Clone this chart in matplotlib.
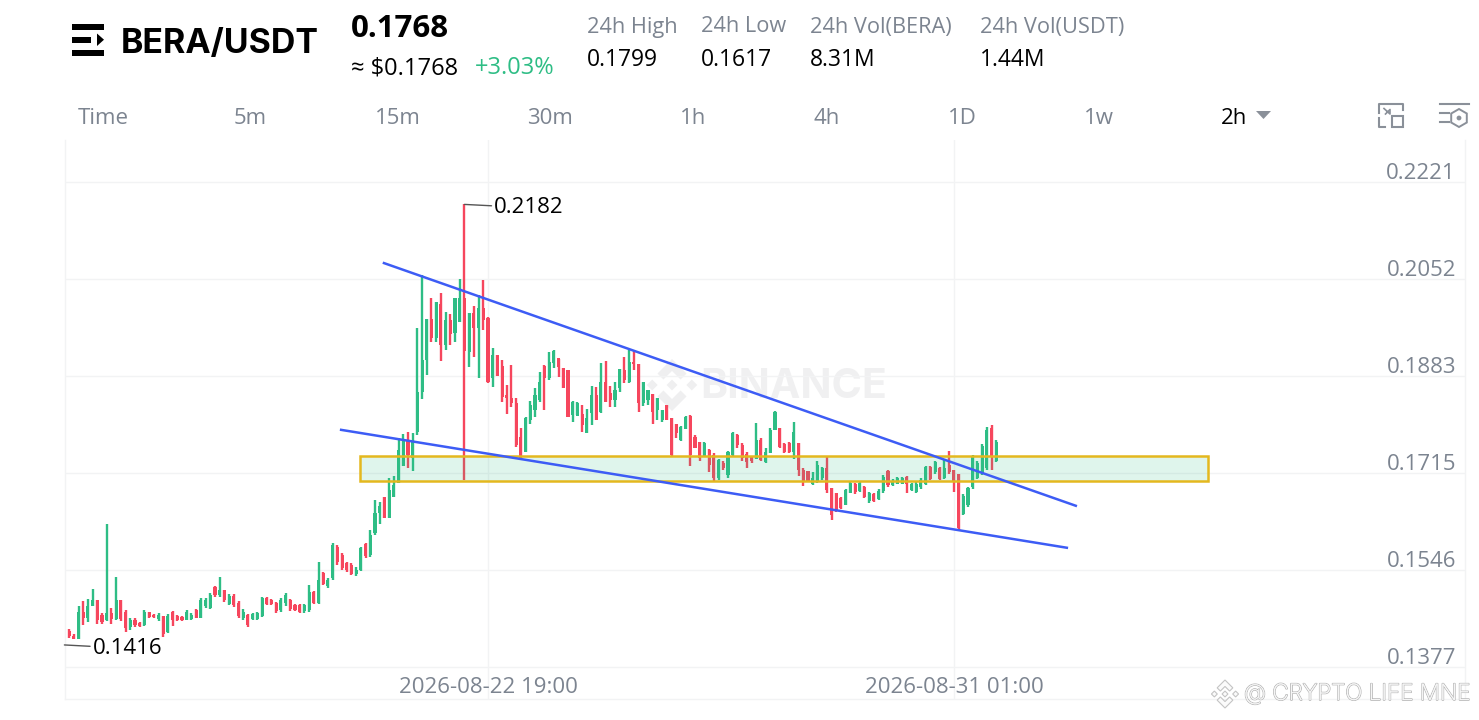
#!/usr/bin/env python
# coding: utf-8

"""BERA/USDT 2h candlestick chart, exchange app screenshot style."""

import matplotlib

matplotlib.use("Agg")
import matplotlib.patches as mpatches
import matplotlib.patheffects as path_effects
import matplotlib.pyplot as plt
import numpy as np

plt.rcParams["font.family"] = ["Open Sans", "DejaVu Sans"]

GREEN = "#2EBD85"
RED = "#F6465D"
BLUE = "#3D5CF5"
YELLOW = "#E4B81E"
GRAY = "#7C8490"
GRID = "#F2F3F4"
BOLD_FONT = ["Inter", "DejaVu Sans"]

# prices in 1/10000 USDT, one value per 2h candle
opens = [
    1423, 1440, 1431, 1427, 1473, 1463, 1484, 1494, 1468, 1459, 1471, 1461, 1494, 1473, 1447, 1459, 1454, 1451, 1473, 1468,
    1461, 1466, 1438, 1473, 1466, 1465, 1459, 1461, 1477, 1463, 1484, 1480, 1517, 1503, 1511, 1487, 1501, 1489, 1463, 1468,
    1461, 1461, 1466, 1498, 1494, 1489, 1477, 1489, 1494, 1485, 1485, 1475, 1477, 1508, 1489, 1541, 1518, 1532, 1586, 1572,
    1558, 1555, 1539, 1546, 1592, 1572, 1611, 1645, 1673, 1637, 1673, 1698, 1727, 1772, 1741, 1786, 1856, 1911, 1983, 1950,
    2009, 1938, 1981, 1958, 1978, 2019, 1925, 1993, 1967, 2002, 1984, 1880, 1920, 1901, 1851, 1845, 1837, 1778, 1751, 1807,
    1824, 1842, 1901, 1880, 1906, 1915, 1898, 1894, 1816, 1814, 1818, 1785, 1819, 1851, 1821, 1873, 1854, 1842, 1863, 1894,
    1873, 1908, 1905, 1837, 1842, 1852, 1824, 1807, 1833, 1811, 1800, 1772, 1791, 1814, 1778, 1769, 1744, 1755, 1746, 1706,
    1732, 1711, 1746, 1781, 1764, 1748, 1743, 1739, 1772, 1734, 1750, 1790, 1793, 1765, 1767, 1751, 1767, 1720, 1718, 1696,
    1699, 1706, 1724, 1689, 1680, 1671, 1659, 1680, 1696, 1684, 1691, 1666, 1678, 1670, 1684, 1718, 1694, 1696, 1696, 1708,
    1685, 1682, 1691, 1696, 1725, 1717, 1724, 1706, 1729, 1720, 1713, 1644, 1659, 1691, 1706, 1715, 1724, 1793, 1736,
]
highs = [
    1437, 1444, 1435, 1483, 1492, 1496, 1514, 1495, 1471, 1626, 1480, 1534, 1495, 1477, 1462, 1462, 1456, 1477, 1474, 1470,
    1471, 1467, 1470, 1475, 1468, 1466, 1477, 1471, 1478, 1497, 1497, 1506, 1518, 1534, 1511, 1505, 1505, 1493, 1478, 1469,
    1472, 1473, 1500, 1500, 1496, 1490, 1498, 1506, 1496, 1487, 1487, 1487, 1520, 1509, 1561, 1543, 1532, 1594, 1589, 1575,
    1561, 1558, 1552, 1587, 1594, 1616, 1668, 1665, 1674, 1706, 1710, 1775, 1782, 1786, 1784, 1967, 2060, 1982, 2020, 2013,
    2028, 1995, 1991, 2020, 2052, 2182, 1994, 2005, 2024, 2051, 1987, 1932, 1920, 1911, 1868, 1903, 1845, 1794, 1812, 1841,
    1862, 1891, 1903, 1926, 1929, 1914, 1897, 1894, 1841, 1838, 1833, 1826, 1866, 1865, 1907, 1910, 1866, 1874, 1896, 1916,
    1928, 1928, 1905, 1873, 1859, 1852, 1845, 1824, 1833, 1811, 1801, 1797, 1814, 1816, 1781, 1769, 1769, 1756, 1750, 1740,
    1736, 1754, 1786, 1782, 1768, 1751, 1744, 1802, 1776, 1759, 1794, 1822, 1794, 1767, 1769, 1803, 1768, 1723, 1719, 1717,
    1735, 1726, 1744, 1689, 1681, 1673, 1688, 1700, 1697, 1700, 1692, 1682, 1680, 1687, 1711, 1720, 1704, 1708, 1708, 1710,
    1697, 1700, 1706, 1727, 1727, 1736, 1725, 1740, 1753, 1721, 1714, 1678, 1691, 1747, 1735, 1765, 1795, 1798, 1773,
]
lows = [
    1419, 1428, 1426, 1427, 1451, 1456, 1484, 1453, 1452, 1458, 1452, 1459, 1458, 1439, 1442, 1447, 1447, 1449, 1462, 1462,
    1458, 1430, 1436, 1449, 1458, 1458, 1459, 1459, 1462, 1462, 1481, 1478, 1499, 1500, 1491, 1485, 1482, 1462, 1459, 1448,
    1459, 1459, 1464, 1485, 1485, 1472, 1474, 1484, 1475, 1475, 1471, 1472, 1474, 1487, 1487, 1520, 1515, 1529, 1555, 1546,
    1543, 1538, 1536, 1545, 1568, 1569, 1608, 1626, 1636, 1636, 1674, 1697, 1727, 1723, 1719, 1781, 1843, 1885, 1942, 1943,
    1909, 1928, 1938, 1943, 1978, 1702, 1900, 1916, 1880, 1964, 1872, 1865, 1884, 1839, 1818, 1829, 1760, 1738, 1751, 1801,
    1812, 1839, 1824, 1877, 1897, 1882, 1862, 1813, 1804, 1815, 1786, 1784, 1798, 1808, 1820, 1839, 1830, 1830, 1855, 1872,
    1871, 1894, 1821, 1832, 1833, 1800, 1807, 1803, 1807, 1745, 1776, 1771, 1791, 1728, 1758, 1736, 1743, 1717, 1699, 1703,
    1720, 1707, 1743, 1759, 1736, 1723, 1733, 1739, 1735, 1732, 1749, 1790, 1758, 1749, 1749, 1740, 1709, 1692, 1699, 1694,
    1697, 1703, 1681, 1633, 1648, 1652, 1659, 1680, 1678, 1682, 1671, 1663, 1665, 1668, 1681, 1690, 1692, 1696, 1696, 1681,
    1684, 1680, 1688, 1694, 1703, 1714, 1703, 1705, 1714, 1682, 1616, 1642, 1656, 1688, 1704, 1711, 1721, 1720, 1734,
]
closes = [
    1433, 1431, 1427, 1473, 1463, 1484, 1494, 1459, 1456, 1471, 1461, 1494, 1461, 1445, 1459, 1451, 1449, 1473, 1465, 1464,
    1468, 1435, 1466, 1459, 1459, 1459, 1473, 1468, 1463, 1494, 1494, 1503, 1503, 1511, 1494, 1501, 1485, 1466, 1473, 1451,
    1470, 1471, 1498, 1487, 1487, 1475, 1494, 1503, 1478, 1477, 1473, 1485, 1508, 1489, 1529, 1522, 1529, 1590, 1560, 1550,
    1546, 1539, 1546, 1584, 1571, 1607, 1645, 1658, 1637, 1685, 1694, 1755, 1772, 1746, 1772, 1856, 1911, 1982, 1950, 2012,
    1938, 1981, 1957, 2019, 2019, 1927, 1993, 1967, 2002, 1981, 1873, 1920, 1884, 1847, 1845, 1837, 1764, 1741, 1811, 1833,
    1851, 1873, 1880, 1908, 1927, 1899, 1863, 1812, 1838, 1837, 1798, 1811, 1851, 1807, 1873, 1838, 1842, 1859, 1896, 1877,
    1908, 1905, 1837, 1873, 1859, 1821, 1845, 1824, 1807, 1746, 1785, 1795, 1812, 1746, 1758, 1741, 1767, 1729, 1706, 1738,
    1724, 1751, 1785, 1764, 1741, 1734, 1736, 1772, 1738, 1751, 1790, 1821, 1760, 1751, 1751, 1786, 1720, 1699, 1701, 1706,
    1729, 1724, 1685, 1642, 1651, 1654, 1685, 1698, 1682, 1698, 1673, 1680, 1666, 1684, 1708, 1694, 1701, 1706, 1706, 1696,
    1696, 1696, 1703, 1725, 1705, 1734, 1705, 1724, 1717, 1699, 1619, 1675, 1689, 1745, 1732, 1762, 1790, 1743, 1769,
]

price_ticks = [0.2221, 0.2052, 0.1883, 0.1715, 0.1546, 0.1377]
date_ticks = [90, 189]
date_labels = ["2026-08-22 19:00", "2026-08-31 01:00"]

# drawn objects, (candle index, price)
upper_trend = ([67.9, 214.9], [0.2080, 0.1658])
lower_trend = ([58.8, 213.0], [0.1790, 0.1585])
zone_x = (62.8, 242.9)
zone_y = (0.1701, 0.1744)

high_label = (85, 0.2182)
low_label = (0, 0.1416)

header_stats = [
    ("24h High", "0.1799", 587),
    ("24h Low", "0.1617", 701),
    ("24h Vol(BERA)", "8.31M", 810),
    ("24h Vol(USDT)", "1.44M", 980),
]
tabs = [("Time", 103), ("5m", 250.5), ("15m", 397.5), ("30m", 550), ("1h", 693.5), ("4h", 827), ("1D", 962), ("1w", 1099)]


def binance_logo(ax, trans, cx, cy, size, **style):
    """Five piece diamond logo, size is half its height in pixels."""
    chevron = np.array([(0, -1), (0.56, -0.44), (0.33, -0.21), (0, -0.54), (-0.33, -0.21), (-0.56, -0.44)])
    diamond = np.array([(0, -1), (1, 0), (0, 1), (-1, 0)])
    parts = [chevron, chevron * [1, -1], diamond * 0.21, diamond * 0.21 + [-0.76, 0], diamond * 0.21 + [0.76, 0]]
    for part in parts:
        points = part * size + [cx, cy]
        ax.add_patch(mpatches.Polygon(points, closed=True, transform=trans, clip_on=False, **style))


fig = plt.figure(figsize=(14.79, 7.2), dpi=100)

# pixel layer for the header and the icons
ui = fig.add_axes([0, 0, 1, 1], zorder=5)
ui.set_xlim(0, 1479)
ui.set_ylim(720, 0)
ui.axis("off")
ui.patch.set_alpha(0)

# chart area is 65..1465 by 140..699 px
ax = fig.add_axes([65 / 1479, (720 - 699) / 720, 1400 / 1479, 559 / 720], zorder=1)
ax.set_xlim(0.13, 297.6)
ax.set_ylim(0.13220, 0.22940)

ax.spines["top"].set_visible(False)
for name in ["left", "right", "bottom"]:
    ax.spines[name].set_color(GRID)
    ax.spines[name].set_linewidth(1.0)

ax.set_yticks(price_ticks)
ax.set_xticks(date_ticks)
ax.set_xticklabels([])
ax.set_yticklabels([])
ax.tick_params(length=0)
ax.grid(True, color=GRID, linewidth=1.0, zorder=0)
ax.set_axisbelow(True)

# watermark goes under the candles
ax.text(700, 387, "BINANCE", transform=ui.transData, color="#F0F0F1", fontsize=29.5, fontweight="bold",
        family=BOLD_FONT, ha="left", va="center", zorder=0.5, clip_on=False)
binance_logo(ax, ui.transData, 672, 385, 26, facecolor="#EFEFF0", edgecolor="none", zorder=0.5)

# candles
o = np.array(opens) / 1e4
h = np.array(highs) / 1e4
l = np.array(lows) / 1e4
c = np.array(closes) / 1e4
idx = np.arange(len(o))
colors = [GREEN if close >= open_ else RED for open_, close in zip(o, c)]

ax.vlines(idx, l, h, colors=colors, linewidth=1.7, zorder=2)
ax.bar(idx, np.abs(c - o), bottom=np.minimum(o, c), width=0.66, color=colors, linewidth=0, zorder=2)

# support zone sits over the candles
ax.add_patch(
    mpatches.Rectangle(
        (zone_x[0], zone_y[0]), zone_x[1] - zone_x[0], zone_y[1] - zone_y[0],
        facecolor=GREEN, alpha=0.15, edgecolor="none", zorder=3,
    )
)
ax.add_patch(
    mpatches.Rectangle(
        (zone_x[0], zone_y[0]), zone_x[1] - zone_x[0], zone_y[1] - zone_y[0],
        facecolor="none", edgecolor=YELLOW, linewidth=1.8, zorder=3.5,
    )
)
ax.plot(*upper_trend, color=BLUE, linewidth=1.8, zorder=4)
ax.plot(*lower_trend, color=BLUE, linewidth=1.8, zorder=4)

# high and low markers with their leader lines
ax.annotate(f"{high_label[1]:.4f}", xy=high_label, xytext=(21.5, -2.3), textcoords="offset points",
            fontsize=16, color="black", va="center", ha="left",
            arrowprops=dict(arrowstyle="-", color="#555555", linewidth=1, shrinkA=0, shrinkB=0, relpos=(0, 0.58)), zorder=6)
ax.annotate(f"{low_label[1]:.4f}", xy=low_label, xytext=(20.5, -2.3), textcoords="offset points",
            fontsize=16, color="black", va="center", ha="left", annotation_clip=False,
            arrowprops=dict(arrowstyle="-", color="#555555", linewidth=1, shrinkA=0, shrinkB=0, relpos=(0, 0.58)), zorder=6)

# axis labels live inside the plot, like the app
for price in price_ticks:
    ax.annotate(f"{price:.4f}", xy=(1, price), xycoords=("axes fraction", "data"), xytext=(-6.5, -1.5),
                textcoords="offset points", fontsize=16, color=GRAY, ha="right", va="bottom", zorder=6)
for tick, label in zip(date_ticks, date_labels):
    ax.annotate(label, xy=(tick, 0), xycoords=("data", "axes fraction"), xytext=(0, 8.5),
                textcoords="offset points", fontsize=16, color=GRAY, ha="center", va="center", zorder=6)

# header icon
for left, top, width, height in [(72, 24, 32, 5.5), (72, 37, 18.5, 5.5), (72, 50, 32, 5.5)]:
    ui.add_patch(mpatches.Rectangle((left, top), width, height, facecolor="black", edgecolor="none"))
ui.add_patch(mpatches.Polygon([(97, 33.5), (104, 39.7), (97, 46)], closed=True, facecolor="black", edgecolor="none"))

ui.text(121, 44, "BERA/USDT", fontsize=24.4, fontweight="bold", family=BOLD_FONT, color="black", ha="left", va="center")
ui.text(351, 29, "0.1768", fontsize=22.5, fontweight="bold", color="black", ha="left", va="center")
ui.text(351, 68, "≈ $0.1768", fontsize=17, color="black", ha="left", va="center")
ui.text(475, 68, "+3.03%", fontsize=17, color=GREEN, ha="left", va="center")

for title, value, left in header_stats:
    ui.text(left, 27, title, fontsize=15.7, color=GRAY, ha="left", va="center")
    ui.text(left, 60, value, fontsize=16.5, color="black", ha="left", va="center")

for label, center in tabs:
    ui.text(center, 118, label, fontsize=16, color=GRAY, ha="center", va="center")
ui.text(1234, 118, "2h", fontsize=16, color="black", ha="center", va="center")
ui.add_patch(mpatches.Polygon([(1256, 111), (1271, 111), (1263.5, 119)], closed=True, facecolor="#8A9099", edgecolor="none"))

# right hand toolbar icons
icon_gray = "#8A9099"
ui.plot([1378.5, 1378.5, 1403, 1403], [113, 103.5, 103.5, 110], color=icon_gray, linewidth=1.5)
ui.plot([1378.5, 1378.5, 1385], [118, 127, 127], color=icon_gray, linewidth=1.5)
ui.add_patch(mpatches.Rectangle((1392, 116), 11, 11, facecolor="none", edgecolor=icon_gray, linewidth=1.5))
ui.plot([1384, 1390, 1390, 1385.5], [108.5, 114, 109.5, 114], color=icon_gray, linewidth=1.2)
ui.plot([1440, 1469], [103.5, 103.5], color=icon_gray, linewidth=1.5)
ui.plot([1440, 1449], [113, 113], color=icon_gray, linewidth=1.5)
ui.plot([1440, 1449], [122, 122], color=icon_gray, linewidth=1.5)
ui.add_patch(mpatches.RegularPolygon((1459, 118), 6, radius=9, facecolor="none", edgecolor=icon_gray, linewidth=1.4))
ui.add_patch(mpatches.Circle((1459, 118), 2.4, facecolor=icon_gray, edgecolor="none"))

# repost watermark
binance_logo(ui, ui.transData, 1225, 694, 14, facecolor="#FBFBFB", edgecolor="#C4C4C4", linewidth=0.8)
mark = ui.text(1244, 694, "@ CRYPTO LIFE MNE", fontsize=16.2, fontweight="light", family=BOLD_FONT, color="#F6F6F6",
               ha="left", va="center", clip_on=False)
mark.set_path_effects([path_effects.withStroke(linewidth=1.1, foreground="#B4B4B4"), path_effects.Normal()])

fig.savefig("out.png", dpi=100, facecolor="white")
